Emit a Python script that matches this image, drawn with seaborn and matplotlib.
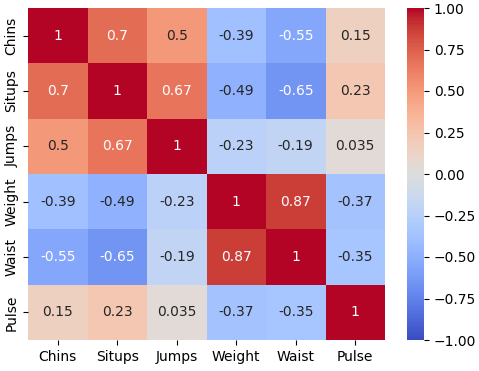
import numpy as np
import pandas as pd
import matplotlib
matplotlib.use("Agg")
import matplotlib.pyplot as plt
import seaborn as sns

labels = ["Chins", "Situps", "Jumps", "Weight", "Waist", "Pulse"]
chins = [1, 0.7, 0.5, -0.39, -0.55, 0.15]
situps = [0.7, 1, 0.67, -0.49, -0.65, 0.23]
jumps = [0.5, 0.67, 1, -0.23, -0.19, 0.035]
weight = [-0.39, -0.49, -0.23, 1, 0.87, -0.37]
waist = [-0.55, -0.65, -0.19, 0.87, 1, -0.35]
pulse = [0.15, 0.23, 0.035, -0.37, -0.35, 1]

corr = pd.DataFrame([chins, situps, jumps, weight, waist, pulse],
                    index=labels, columns=labels)

fig = plt.figure(figsize=(4.79, 3.71), dpi=100)
ax = fig.add_axes([28 / 479, 1 - 340 / 371, 357 / 479, 332 / 371])
cax = fig.add_axes([407 / 479, 1 - 340 / 371, 17 / 479, 332 / 371])
sns.heatmap(corr, annot=True, cmap="coolwarm", vmin=-1, vmax=1, ax=ax, cbar_ax=cax)
plt.savefig("out.png", dpi=100)
